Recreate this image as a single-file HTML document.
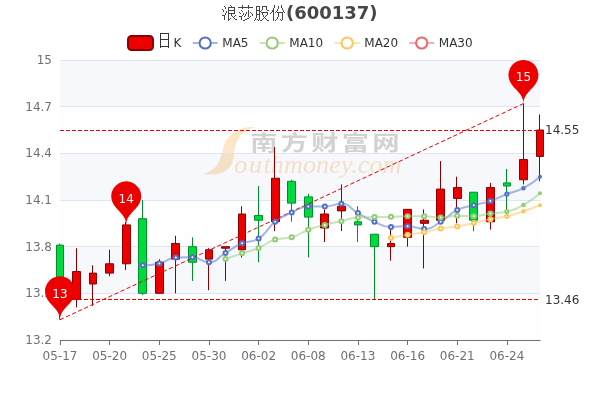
<!DOCTYPE html>
<html lang="zh-CN">
<head>
<meta charset="utf-8">
<title>浪莎股份(600137)</title>
<style>
html,body{margin:0;padding:0;background:#fff;}
body{width:600px;height:400px;overflow:hidden;}
svg{display:block;}
text{font-family:"DejaVu Sans","Liberation Sans","WenQuanYi Zen Hei",sans-serif;font-size:12px;}
.ax{fill:#6E7079;}
.ml{fill:#333;}
.pin{fill:#fff;}
.lg{fill:#333;}
.title{font-size:18px;font-weight:bold;fill:#464646;}
.wmc{font-family:"Noto Sans CJK SC","WenQuanYi Zen Hei",sans-serif;font-size:21px;font-weight:700;fill:#c9c9c9;letter-spacing:2.46px;}
.wme{font-family:"Liberation Serif",serif;font-style:italic;font-size:26px;fill:#fce1bd;letter-spacing:0.15px;}
.cjk,.cjkl{font-family:"Unifont","Noto Serif CJK SC","WenQuanYi Zen Hei",serif;font-size:16px;font-weight:normal;}
.t{fill:#464646;}
.cjkl{fill:#333;}
</style>
</head>
<body>
<svg width="600" height="400" viewBox="0 0 600 400">
<rect width="600" height="400" fill="#fff"/>
<g class="wm">
<path d="M254.5 127.2 C248 126.6 240 128.4 232.5 133.5 C228 136.8 225.2 141.5 223.5 147.5 C221.9 153.5 220.4 159 218 163.5 C215.7 167.5 211 171.3 203 174.3 C208 175 214.5 174.8 219.5 173.5 C224.5 172 228.3 169.5 230.6 166 C233.3 161.7 233.8 156 234.6 150 C235.4 144.5 237.3 138.8 241.8 134 C245.3 130.5 250 128.4 254.5 127.2 Z" fill="#fde2b9"/>
<text class="wmc" transform="translate(250.2 149.6) scale(1.3 1)" x="0" y="0">南方财富网</text>
<text class="wme" x="234.2" y="173">o<tspan dx="1.6">u</tspan><tspan dx="1.4">thmoney.com</tspan></text>
</g>

<rect x="60" y="293.33" width="480" height="46.67" fill="rgba(250,250,250,0.2)"/>
<rect x="60" y="246.67" width="480" height="46.67" fill="rgba(210,219,238,0.2)"/>
<rect x="60" y="200" width="480" height="46.67" fill="rgba(250,250,250,0.2)"/>
<rect x="60" y="153.33" width="480" height="46.67" fill="rgba(210,219,238,0.2)"/>
<rect x="60" y="106.67" width="480" height="46.67" fill="rgba(250,250,250,0.2)"/>
<rect x="60" y="60" width="480" height="46.67" fill="rgba(210,219,238,0.2)"/>
<path d="M60 340.5 H540" stroke="#E0E6F1" stroke-width="1" fill="none"/>
<path d="M60 293.5 H540" stroke="#E0E6F1" stroke-width="1" fill="none"/>
<path d="M60 246.5 H540" stroke="#E0E6F1" stroke-width="1" fill="none"/>
<path d="M60 200.5 H540" stroke="#E0E6F1" stroke-width="1" fill="none"/>
<path d="M60 153.5 H540" stroke="#E0E6F1" stroke-width="1" fill="none"/>
<path d="M60 106.5 H540" stroke="#E0E6F1" stroke-width="1" fill="none"/>
<path d="M60 60.5 H540" stroke="#E0E6F1" stroke-width="1" fill="none"/>
<text class="ax" x="52" y="344" text-anchor="end">13.2</text>
<text class="ax" x="52" y="297" text-anchor="end">13.5</text>
<text class="ax" x="52" y="251" text-anchor="end">13.8</text>
<text class="ax" x="52" y="204" text-anchor="end">14.1</text>
<text class="ax" x="52" y="157" text-anchor="end">14.4</text>
<text class="ax" x="52" y="111" text-anchor="end">14.7</text>
<text class="ax" x="52" y="64" text-anchor="end">15</text>
<path d="M60 340.5 H540.5" stroke="#6E7079" stroke-width="1" fill="none"/>
<path d="M60.5 340 V345" stroke="#6E7079" stroke-width="1" fill="none"/>
<text class="ax" x="60" y="360" text-anchor="middle">05-17</text>
<path d="M109.5 340 V345" stroke="#6E7079" stroke-width="1" fill="none"/>
<text class="ax" x="109.66" y="360" text-anchor="middle">05-20</text>
<path d="M159.5 340 V345" stroke="#6E7079" stroke-width="1" fill="none"/>
<text class="ax" x="159.31" y="360" text-anchor="middle">05-25</text>
<path d="M209.5 340 V345" stroke="#6E7079" stroke-width="1" fill="none"/>
<text class="ax" x="208.97" y="360" text-anchor="middle">05-30</text>
<path d="M258.5 340 V345" stroke="#6E7079" stroke-width="1" fill="none"/>
<text class="ax" x="258.62" y="360" text-anchor="middle">06-02</text>
<path d="M308.5 340 V345" stroke="#6E7079" stroke-width="1" fill="none"/>
<text class="ax" x="308.28" y="360" text-anchor="middle">06-08</text>
<path d="M358.5 340 V345" stroke="#6E7079" stroke-width="1" fill="none"/>
<text class="ax" x="357.93" y="360" text-anchor="middle">06-13</text>
<path d="M407.5 340 V345" stroke="#6E7079" stroke-width="1" fill="none"/>
<text class="ax" x="407.59" y="360" text-anchor="middle">06-16</text>
<path d="M457.5 340 V345" stroke="#6E7079" stroke-width="1" fill="none"/>
<text class="ax" x="457.24" y="360" text-anchor="middle">06-21</text>
<path d="M507.5 340 V345" stroke="#6E7079" stroke-width="1" fill="none"/>
<text class="ax" x="506.9" y="360" text-anchor="middle">06-24</text>
<path d="M56.5 245.11 H63.5 V299.56 H56.5 Z M59.5 243.56 V245.11 M59.5 299.56 V319.78" fill="#00da3c" stroke="#008F28" stroke-width="1"/>
<path d="M72.5 271.56 H80.5 V299.56 H72.5 Z M76.5 248.22 V271.56 M76.5 299.56 V307.33" fill="#ec0000" stroke="#8A0000" stroke-width="1"/>
<path d="M89.5 273.11 H96.5 V284 H89.5 Z M92.5 265.33 V273.11 M92.5 284 V305.78" fill="#ec0000" stroke="#8A0000" stroke-width="1"/>
<path d="M105.5 263.78 H113.5 V273.11 H105.5 Z M109.5 249.78 V263.78 M109.5 273.11 V276.22" fill="#ec0000" stroke="#8A0000" stroke-width="1"/>
<path d="M122.5 224.89 H130.5 V263.78 H122.5 Z M125.5 221.78 V224.89 M125.5 263.78 V270" fill="#ec0000" stroke="#8A0000" stroke-width="1"/>
<path d="M138.5 218.67 H146.5 V293.33 H138.5 Z M142.5 200 V218.67 M142.5 293.33 V294.89" fill="#00da3c" stroke="#008F28" stroke-width="1"/>
<path d="M155.5 262.22 H163.5 V293.33 H155.5 Z M159.5 259.11 V262.22" fill="#ec0000" stroke="#8A0000" stroke-width="1"/>
<path d="M171.5 243.56 H179.5 V259.11 H171.5 Z M175.5 235.78 V243.56 M175.5 259.11 V293.33" fill="#ec0000" stroke="#8A0000" stroke-width="1"/>
<path d="M188.5 246.67 H196.5 V262.22 H188.5 Z M192.5 237.33 V246.67 M192.5 262.22 V280.89" fill="#00da3c" stroke="#008F28" stroke-width="1"/>
<path d="M205.5 249.78 H212.5 V259.11 H205.5 Z M208.5 248.22 V249.78 M208.5 259.11 V290.22" fill="#ec0000" stroke="#8A0000" stroke-width="1"/>
<path d="M221.5 246.67 H229.5 V248.22 H221.5 Z M225.5 248.22 V280.89" fill="#ec0000" stroke="#8A0000" stroke-width="1"/>
<path d="M238.5 214 H245.5 V249.78 H238.5 Z M241.5 206.22 V214 M241.5 249.78 V257.56" fill="#ec0000" stroke="#8A0000" stroke-width="1"/>
<path d="M254.5 215.56 H262.5 V220.22 H254.5 Z M258.5 186 V215.56 M258.5 220.22 V262.22" fill="#00da3c" stroke="#008F28" stroke-width="1"/>
<path d="M271.5 178.22 H279.5 V221.78 H271.5 Z M274.5 147.11 V178.22 M274.5 221.78 V231.11" fill="#ec0000" stroke="#8A0000" stroke-width="1"/>
<path d="M287.5 181.33 H295.5 V203.11 H287.5 Z M291.5 179.78 V181.33 M291.5 203.11 V221.78" fill="#00da3c" stroke="#008F28" stroke-width="1"/>
<path d="M304.5 196.89 H312.5 V217.11 H304.5 Z M308.5 193.78 V196.89 M308.5 217.11 V257.56" fill="#00da3c" stroke="#008F28" stroke-width="1"/>
<path d="M320.5 214 H328.5 V228 H320.5 Z M324.5 209.33 V214 M324.5 228 V242" fill="#ec0000" stroke="#8A0000" stroke-width="1"/>
<path d="M337.5 206.22 H345.5 V210.89 H337.5 Z M341.5 184.44 V206.22 M341.5 210.89 V231.11" fill="#ec0000" stroke="#8A0000" stroke-width="1"/>
<path d="M354.5 221.78 H361.5 V224.89 H354.5 Z M357.5 206.22 V221.78 M357.5 224.89 V242" fill="#00da3c" stroke="#008F28" stroke-width="1"/>
<path d="M370.5 234.22 H378.5 V246.67 H370.5 Z M374.5 246.67 V299.56" fill="#00da3c" stroke="#008F28" stroke-width="1"/>
<path d="M387.5 243.56 H394.5 V246.67 H387.5 Z M390.5 229.56 V243.56 M390.5 246.67 V260.67" fill="#ec0000" stroke="#8A0000" stroke-width="1"/>
<path d="M403.5 209.33 H411.5 V237.33 H403.5 Z M407.5 237.33 V246.67" fill="#ec0000" stroke="#8A0000" stroke-width="1"/>
<path d="M420.5 220.22 H428.5 V223.33 H420.5 Z M423.5 209.33 V220.22 M423.5 223.33 V268.44" fill="#ec0000" stroke="#8A0000" stroke-width="1"/>
<path d="M436.5 189.11 H444.5 V220.22 H436.5 Z M440.5 161.11 V189.11" fill="#ec0000" stroke="#8A0000" stroke-width="1"/>
<path d="M453.5 187.56 H461.5 V198.44 H453.5 Z M456.5 176.67 V187.56 M456.5 198.44 V223.33" fill="#ec0000" stroke="#8A0000" stroke-width="1"/>
<path d="M469.5 192.22 H477.5 V220.22 H469.5 Z M473.5 220.22 V231.11" fill="#00da3c" stroke="#008F28" stroke-width="1"/>
<path d="M486.5 187.56 H494.5 V221.78 H486.5 Z M490.5 182.89 V187.56 M490.5 221.78 V229.56" fill="#ec0000" stroke="#8A0000" stroke-width="1"/>
<path d="M503.5 182.89 H510.5 V186 H503.5 Z M506.5 168.89 V182.89 M506.5 186 V210.89" fill="#00da3c" stroke="#008F28" stroke-width="1"/>
<path d="M519.5 159.56 H527.5 V179.78 H519.5 Z M523.5 103.56 V159.56 M523.5 179.78 V184.44" fill="#ec0000" stroke="#8A0000" stroke-width="1"/>
<path d="M536.5 130 H543.5 V156.44 H536.5 Z M539.5 114.44 V130 M539.5 156.44 V181.33" fill="#ec0000" stroke="#8A0000" stroke-width="1"/>
<path d="M60 319.78 L523.45 103.56" stroke="#ec0000" stroke-width="1" stroke-dasharray="4.2 2.476" fill="none"/>
<path d="M60 299.5 H540" stroke="#ec0000" stroke-width="1" stroke-dasharray="4 2" fill="none"/>
<path d="M60 130.5 H540" stroke="#ec0000" stroke-width="1" stroke-dasharray="4 2" fill="none"/>
<text class="ml" x="545" y="304">13.46</text>
<text class="ml" x="545" y="134.4">14.55</text>
<path d="M509.9 81.41 A15 15 0 1 1 537 81.41 C533.14 89.54 523.45 93.06 523.45 103.56 C523.45 93.06 513.75 89.54 509.9 81.41 Z" fill="#ec0000"/>
<text class="pin" x="523.45" y="81.36" text-anchor="middle">15</text>
<path d="M46.45 297.63 A15 15 0 1 1 73.55 297.63 C69.7 305.77 60 309.28 60 319.78 C60 309.28 50.3 305.77 46.45 297.63 Z" fill="#ec0000"/>
<text class="pin" x="60" y="297.58" text-anchor="middle">13</text>
<path d="M112.65 202.75 A15 15 0 1 1 139.76 202.75 C135.9 210.88 126.21 214.39 126.21 224.89 C126.21 214.39 116.51 210.88 112.65 202.75 Z" fill="#ec0000"/>
<text class="pin" x="126.21" y="202.69" text-anchor="middle">14</text>
<clipPath id="gc"><rect x="59" y="59" width="482" height="282"/></clipPath>
<path d="M142.76 265.33 C142.76 265.33 151.26 265.33 159.31 263.47 C167.81 261.5 167.34 257.89 175.86 257.56 C183.89 257.24 184.32 257.24 192.41 257.24 C200.87 257.24 201.08 262.22 208.97 262.22 C217.63 262.22 217.27 257.61 225.52 252.89 C233.83 248.13 233.35 247.02 242.07 243.24 C249.9 239.86 251.64 243.1 258.62 238.58 C268.19 232.37 266.01 229.01 275.17 221.78 C282.56 215.95 283.13 216.4 291.72 212.44 C299.68 208.78 299.75 206.53 308.28 206.53 C316.3 206.53 316.61 206.53 324.83 206.53 C333.16 206.53 333.62 203.73 341.38 203.73 C350.17 203.73 349.59 208.52 357.93 213.07 C366.14 217.54 365.9 218.15 374.48 221.78 C382.45 225.15 382.56 227.07 391.03 227.07 C399.12 227.07 399.36 226.13 407.59 226.13 C415.91 226.13 416.16 228.93 424.14 228.93 C432.71 228.93 432.91 226.24 440.69 221.78 C449.46 216.75 448.27 214.42 457.24 209.96 C464.82 206.18 465.5 207.55 473.79 205.29 C482.05 203.04 482.26 203.67 490.34 200.93 C498.81 198.07 498.54 197.31 506.9 194.09 C515.09 190.93 515.74 192.23 523.45 188.18 C532.29 183.52 540 176.67 540 176.67" stroke="#5470c6" stroke-width="2" stroke-opacity="0.5" fill="none" stroke-linejoin="bevel" clip-path="url(#gc)"/>
<g fill="#fff" stroke="#5470c6" stroke-width="2"><circle cx="142.76" cy="265.33" r="2"/><circle cx="159.31" cy="263.47" r="2"/><circle cx="175.86" cy="257.56" r="2"/><circle cx="192.41" cy="257.24" r="2"/><circle cx="208.97" cy="262.22" r="2"/><circle cx="225.52" cy="252.89" r="2"/><circle cx="242.07" cy="243.24" r="2"/><circle cx="258.62" cy="238.58" r="2"/><circle cx="275.17" cy="221.78" r="2"/><circle cx="291.72" cy="212.44" r="2"/><circle cx="308.28" cy="206.53" r="2"/><circle cx="324.83" cy="206.53" r="2"/><circle cx="341.38" cy="203.73" r="2"/><circle cx="357.93" cy="213.07" r="2"/><circle cx="374.48" cy="221.78" r="2"/><circle cx="391.03" cy="227.07" r="2"/><circle cx="407.59" cy="226.13" r="2"/><circle cx="424.14" cy="228.93" r="2"/><circle cx="440.69" cy="221.78" r="2"/><circle cx="457.24" cy="209.96" r="2"/><circle cx="473.79" cy="205.29" r="2"/><circle cx="490.34" cy="200.93" r="2"/><circle cx="506.9" cy="194.09" r="1.6"/><circle cx="523.45" cy="188.18" r="1.3"/><circle cx="540" cy="176.67" r="1"/></g>
<path d="M225.52 259.11 C225.52 259.11 233.76 256.13 242.07 253.36 C250.31 250.61 250.63 251.41 258.62 248.07 C267.19 244.48 266.44 241.94 275.17 239.51 C282.99 237.33 283.81 239.51 291.72 237.33 C300.36 234.96 299.77 232.91 308.28 229.71 C316.32 226.69 316.49 227.04 324.83 224.89 C333.04 222.77 333.1 223.02 341.38 221.16 C349.66 219.29 349.55 217.74 357.93 217.42 C366.1 217.11 366.21 217.27 374.48 217.11 C382.76 216.96 382.76 216.99 391.03 216.8 C399.31 216.61 399.31 216.33 407.59 216.33 C415.86 216.33 415.87 216.33 424.14 216.33 C432.42 216.33 432.42 217.42 440.69 217.42 C448.97 217.42 448.95 215.87 457.24 215.87 C465.5 215.87 465.57 216.18 473.79 216.18 C482.12 216.18 482.05 214.7 490.34 213.53 C498.6 212.37 498.89 213.53 506.9 211.51 C515.44 209.35 515.71 209.23 523.45 204.98 C532.26 200.13 540 193.31 540 193.31" stroke="#91cc75" stroke-width="2" stroke-opacity="0.5" fill="none" stroke-linejoin="bevel" clip-path="url(#gc)"/>
<g fill="#fff" stroke="#91cc75" stroke-width="2"><circle cx="225.52" cy="259.11" r="2"/><circle cx="242.07" cy="253.36" r="2"/><circle cx="258.62" cy="248.07" r="2"/><circle cx="275.17" cy="239.51" r="2"/><circle cx="291.72" cy="237.33" r="2"/><circle cx="308.28" cy="229.71" r="2"/><circle cx="324.83" cy="224.89" r="2"/><circle cx="341.38" cy="221.16" r="2"/><circle cx="357.93" cy="217.42" r="2"/><circle cx="374.48" cy="217.11" r="2"/><circle cx="391.03" cy="216.8" r="2"/><circle cx="407.59" cy="216.33" r="2"/><circle cx="424.14" cy="216.33" r="2"/><circle cx="440.69" cy="217.42" r="2"/><circle cx="457.24" cy="215.87" r="2"/><circle cx="473.79" cy="216.18" r="2"/><circle cx="490.34" cy="213.53" r="2"/><circle cx="506.9" cy="211.51" r="1.6"/><circle cx="523.45" cy="204.98" r="1.3"/><circle cx="540" cy="193.31" r="1"/></g>
<path d="M391.03 237.96 C391.03 237.96 399.29 236.29 407.59 234.84 C415.84 233.41 415.91 233.78 424.14 232.2 C432.46 230.6 432.34 229.88 440.69 228.47 C448.89 227.08 449.04 227.97 457.24 226.6 C465.59 225.21 465.52 224.79 473.79 222.94 C482.07 221.1 482.03 220.87 490.34 219.21 C498.58 217.57 498.75 218.31 506.9 216.33 C515.3 214.3 515.24 213.96 523.45 211.2 C531.79 208.4 540 205.21 540 205.21" stroke="#fac858" stroke-width="2" stroke-opacity="0.5" fill="none" stroke-linejoin="bevel" clip-path="url(#gc)"/>
<g fill="#fff" stroke="#fac858" stroke-width="2"><circle cx="391.03" cy="237.96" r="2"/><circle cx="407.59" cy="234.84" r="2"/><circle cx="424.14" cy="232.2" r="2"/><circle cx="440.69" cy="228.47" r="2"/><circle cx="457.24" cy="226.6" r="2"/><circle cx="473.79" cy="222.94" r="2"/><circle cx="490.34" cy="219.21" r="2"/><circle cx="506.9" cy="216.33" r="1.6"/><circle cx="523.45" cy="211.2" r="1.3"/><circle cx="540" cy="205.21" r="1"/></g>
<text class="cjk t" x="222" y="19">浪莎股份</text>
<text class="title" x="286" y="19">(600137)</text>
<rect x="128" y="36" width="25" height="14" rx="3.5" fill="#ec0000" stroke="#8A0000" stroke-width="2"/>
<text class="cjkl" x="157" y="46">日</text>
<text class="lg" x="173.5" y="47">K</text>
<path d="M192.7 43 H217.7" stroke="#5470c6" stroke-width="2" stroke-opacity="0.5" fill="none"/>
<circle cx="205.2" cy="43" r="5.6" fill="#fff" stroke="#5470c6" stroke-width="2"/>
<text class="lg" x="222.3" y="47">MA5</text>
<path d="M259.7 43 H284.7" stroke="#91cc75" stroke-width="2" stroke-opacity="0.5" fill="none"/>
<circle cx="272.2" cy="43" r="5.6" fill="#fff" stroke="#91cc75" stroke-width="2"/>
<text class="lg" x="289.3" y="47">MA10</text>
<path d="M334.7 43 H359.7" stroke="#fac858" stroke-width="2" stroke-opacity="0.5" fill="none"/>
<circle cx="347.2" cy="43" r="5.6" fill="#fff" stroke="#fac858" stroke-width="2"/>
<text class="lg" x="364.3" y="47">MA20</text>
<path d="M409.2 43 H434.2" stroke="#ee6666" stroke-width="2" stroke-opacity="0.5" fill="none"/>
<circle cx="421.7" cy="43" r="5.6" fill="#fff" stroke="#ee6666" stroke-width="2"/>
<text class="lg" x="438.8" y="47">MA30</text>
</svg>
</body>
</html>
